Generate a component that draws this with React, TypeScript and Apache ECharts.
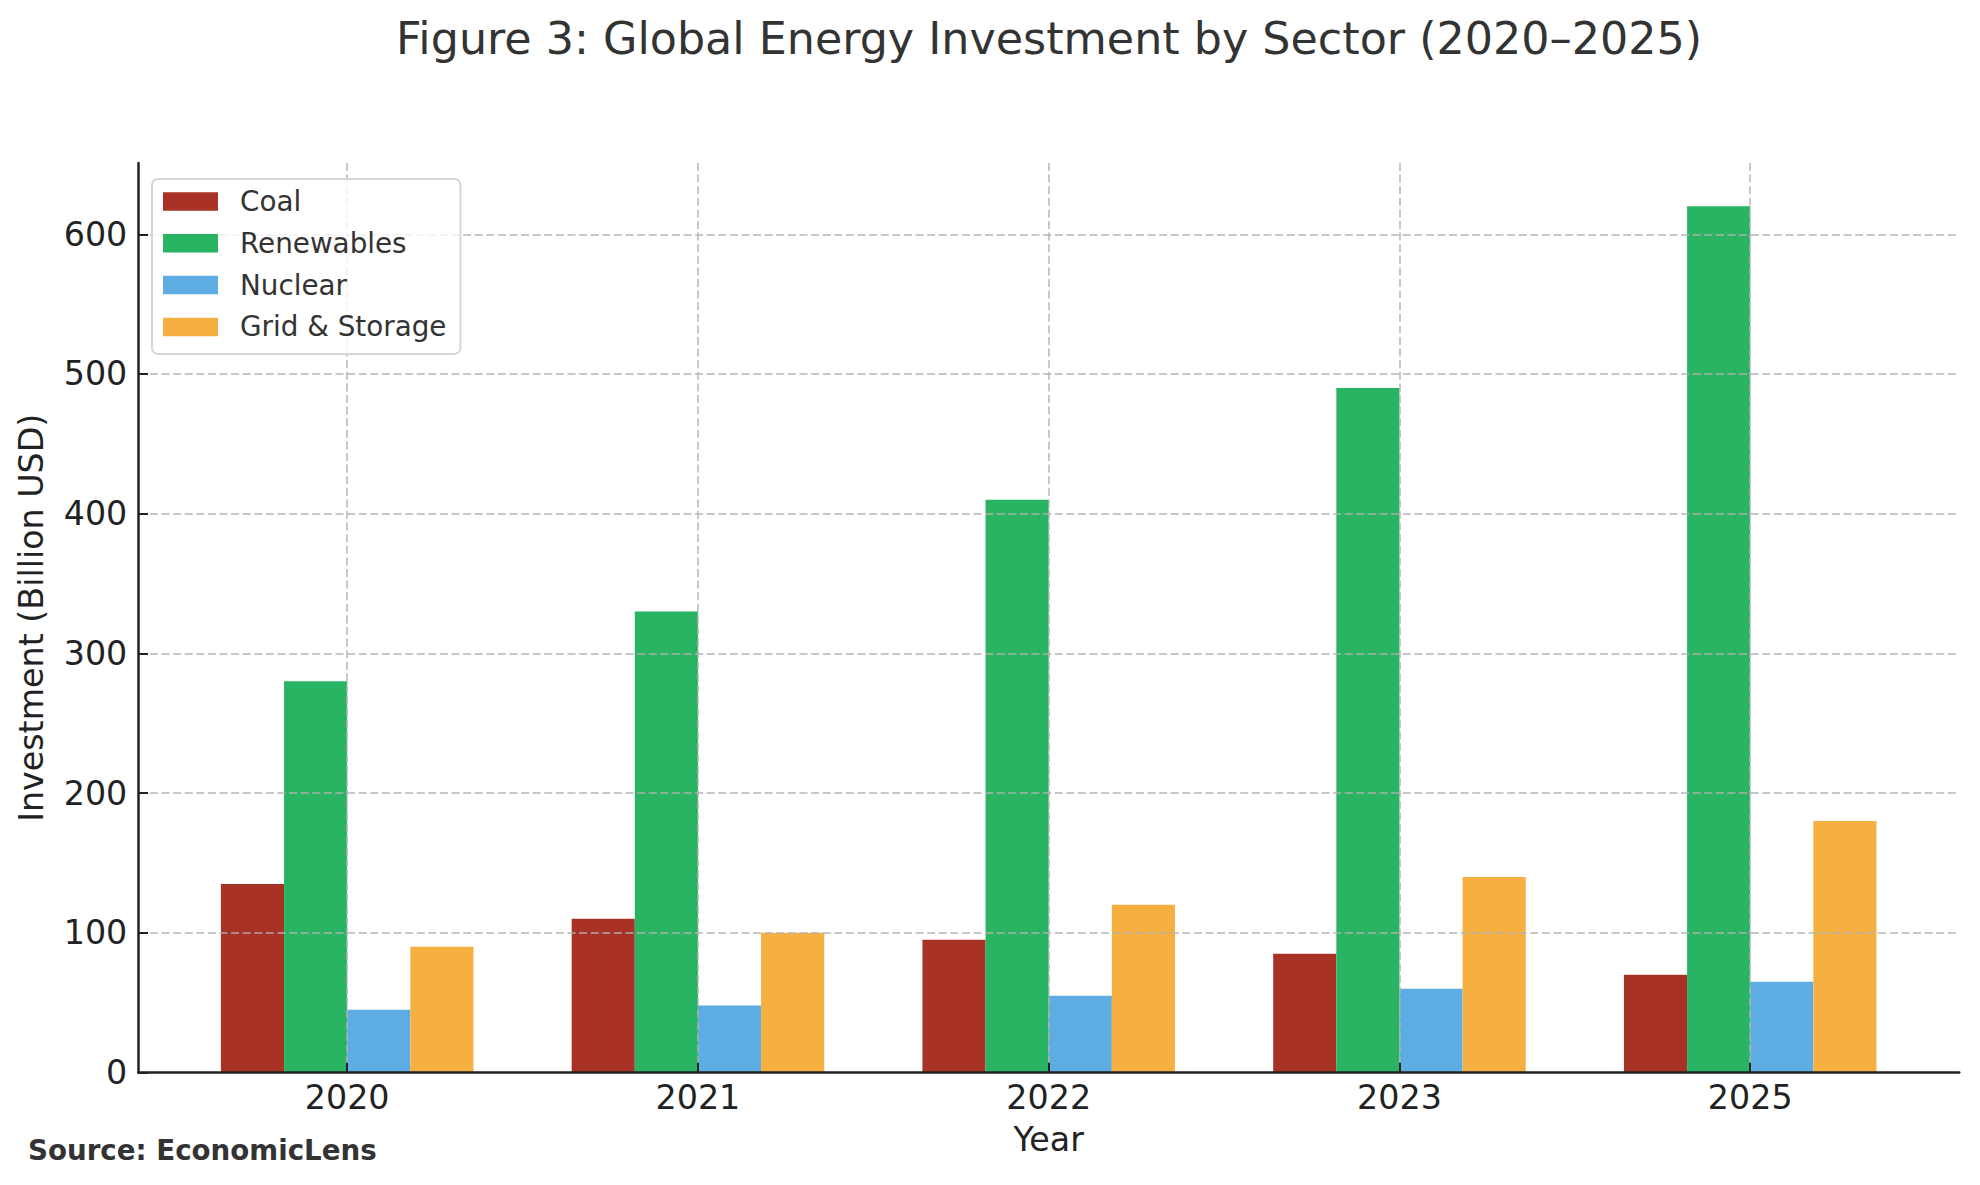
// Global energy investment by sector — grouped bars, matplotlib-like styling.
import * as React from "react";
import * as echarts from "echarts";

const YEARS = ["2020", "2021", "2022", "2023", "2025"];
const COAL = [135, 110, 95, 85, 70];
const RENEWABLES = [280, 330, 410, 490, 620];
const NUCLEAR = [45, 48, 55, 60, 65];
const GRID_STORAGE = [90, 100, 120, 140, 180];
const Y_TICKS = [0, 100, 200, 300, 400, 500, 600];
const Y_MAX = 651;

const SERIES = [
  { name: "Coal", data: COAL, color: "#A93226" },
  { name: "Renewables", data: RENEWABLES, color: "#28B463" },
  { name: "Nuclear", data: NUCLEAR, color: "#5DADE2" },
  { name: "Grid & Storage", data: GRID_STORAGE, color: "#F5B041" },
];

const FONT = "DejaVu Sans, sans-serif";
const INK = "#222222";
const GRIDLINE = { type: [8, 3.6] as number[], width: 2, color: "rgba(176,176,176,0.7)" };

export default function App() {
  const ref = React.useRef<HTMLDivElement | null>(null);

  React.useEffect(() => {
    document.body.style.margin = "0";
    if (!ref.current) return;
    const chart = echarts.init(ref.current, undefined, { renderer: "svg" });

    chart.setOption({
      animation: false,
      backgroundColor: "#ffffff",
      textStyle: { fontFamily: FONT },
      grid: [
        // 바깥 축(스파인, y눈금)
        { left: 138.3, right: 20.7, top: 163, bottom: 112.5, containLabel: false, outerBoundsMode: "none" },
        // 막대용 (xlim -0.6..4.6 맞추기)
        { left: 171.8, right: 54.4, top: 163, bottom: 112.5, containLabel: false, outerBoundsMode: "none" },
      ],
      graphic: [
        {
          type: "text", x: 1049, y: 38.8, z: 20,
          style: {
            text: "Figure 3: Global Energy Investment by Sector (2020–2025)",
            fontSize: 44.4, fontFamily: FONT, fill: "#333333",
            align: "center", verticalAlign: "middle",
          },
        },
        {
          type: "text", x: 28, y: 1150, z: 20,
          style: {
            text: "Source: EconomicLens",
            fontSize: 27.7, fontWeight: "bold", fontFamily: FONT, fill: "#333333",
            align: "left", verticalAlign: "middle",
          },
        },
      ],
      legend: {
        orient: "vertical",
        left: 152, top: 179,
        itemWidth: 55, itemHeight: 18.5, itemGap: 13.8,
        icon: "rect",
        padding: [8.5, 14, 13, 11],
        backgroundColor: "rgba(255,255,255,0.8)",
        borderColor: "#d6d6d6", borderWidth: 2, borderRadius: 6,
        textStyle: { fontSize: 27.8, color: "#333333", lineHeight: 28, padding: [0, 0, 0, 17], fontFamily: FONT },
        z: 30,
      },
      xAxis: [
        {
          type: "value", gridIndex: 0, min: 0, max: 1, z: 10,
          axisLine: { show: true, onZero: false, lineStyle: { color: INK, width: 2.5 } },
          axisTick: { show: false }, axisLabel: { show: false }, splitLine: { show: false },
        },
        {
          type: "category", gridIndex: 1, data: YEARS, z: 10,
          name: "Year", nameLocation: "middle", nameGap: 50.4,
          nameTextStyle: { fontSize: 33.3, color: INK, lineHeight: 33.3 },
          axisLine: { show: false },
          axisTick: { show: true, inside: true, alignWithLabel: true, interval: 0, length: 9.7, lineStyle: { color: INK, width: 2 } },
          axisLabel: { fontSize: 33.3, color: INK, margin: 8.5, interval: 0, lineHeight: 33.3 },
          splitLine: { show: true, alignWithLabel: true, interval: 0, lineStyle: GRIDLINE },
        },
      ],
      yAxis: [
        {
          type: "value", gridIndex: 0, min: 0, max: Y_MAX, interval: 100, z: 10,
          name: "Investment (Billion USD)", nameLocation: "middle", nameGap: 90,
          nameTextStyle: { fontSize: 33.3, color: INK, lineHeight: 33 },
          axisLine: { show: true, onZero: false, lineStyle: { color: INK, width: 2.5 } },
          axisTick: { show: true, inside: true, length: 9.7, customValues: Y_TICKS, lineStyle: { color: INK, width: 2 } },
          axisLabel: { fontSize: 33.3, color: INK, margin: 11, customValues: Y_TICKS },
          splitLine: { show: true, showMinLine: false, lineStyle: GRIDLINE },
        },
        { type: "value", gridIndex: 1, min: 0, max: Y_MAX, show: false, splitLine: { show: false } },
      ],
      series: SERIES.map((s) => ({
        type: "bar",
        name: s.name,
        data: s.data,
        xAxisIndex: 1,
        yAxisIndex: 1,
        barWidth: "18%",
        barGap: "0%",
        itemStyle: { color: s.color },
        emphasis: { disabled: true },
      })),
    });

    return () => chart.dispose();
  }, []);

  return <div ref={ref} style={{ width: 1980, height: 1185 }} />;
}
